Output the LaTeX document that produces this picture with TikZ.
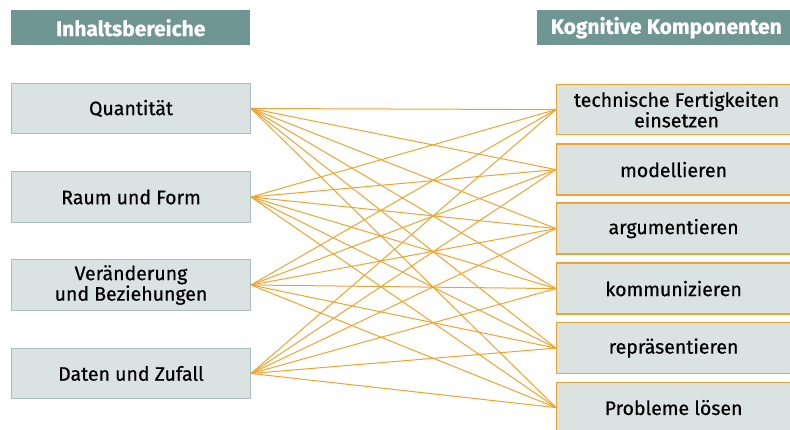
\documentclass[tikz,border=0pt]{standalone}
\usepackage{fontspec}
\setmainfont{Fira Sans}[FakeBold=0.6]
\newfontfamily\headfont{Fira Sans}[FakeBold=0.5]
\definecolor{headteal}{HTML}{6F9692}
\definecolor{boxfill}{HTML}{DAE3E1}
\definecolor{boxline}{HTML}{AABFBB}
\definecolor{linkorange}{HTML}{F2A22E}
\begin{document}
\begin{tikzpicture}[x=1pt,y=-1pt,
  header/.style={fill=headteal, draw=none, text=white, font=\headfont\fontsize{21}{23}\selectfont\bfseries, inner sep=0pt},
  leftbox/.style={fill=boxfill, draw=boxline, line width=1pt, font=\fontsize{19.5}{20.5}\selectfont, align=center, inner sep=0pt},
  rightbox/.style={fill=boxfill, draw=linkorange, line width=1.2pt, font=\fontsize{19.5}{20.5}\selectfont, align=center, inner sep=0pt},
  link/.style={draw=linkorange, line width=1pt}]
\useasboundingbox (0,0) rectangle (790,430);
% headers
\node[header, minimum width=239pt, minimum height=35pt, anchor=north west] (hl) at (11,10) {Inhaltsbereiche};
\node[header, minimum width=260pt, minimum height=35pt, anchor=north west] (hr) at (537,10) {\hspace*{-2pt}Kognitive Komponenten};
% left boxes
\node[leftbox, minimum width=239pt, minimum height=50pt, anchor=north west] (l1) at (11,83) {Quantität};
\node[leftbox, minimum width=239pt, minimum height=51pt, anchor=north west] (l2) at (11,171) {Raum und Form};
\node[leftbox, minimum width=239pt, minimum height=51pt, anchor=north west] (l3) at (11,259) {Veränderung\\und Beziehungen};
\node[leftbox, minimum width=239pt, minimum height=50pt, anchor=north west] (l4) at (11,348) {Daten und Zufall};
% right boxes
\node[rightbox, minimum width=240pt, minimum height=50pt, anchor=north west] (r1) at (556,84) {technische Fertigkeiten\\einsetzen};
\node[rightbox, minimum width=240pt, minimum height=51pt, anchor=north west] (r2) at (556,143.5) {\hspace*{-6pt}modellieren};
\node[rightbox, minimum width=240pt, minimum height=51pt, anchor=north west] (r3) at (556,202.5) {\hspace*{-6pt}argumentieren};
\node[rightbox, minimum width=240pt, minimum height=51pt, anchor=north west] (r4) at (556,262.5) {\hspace*{-6pt}kommunizieren};
\node[rightbox, minimum width=240pt, minimum height=51pt, anchor=north west] (r5) at (556,322) {\hspace*{-6pt}repräsentieren};
\node[rightbox, minimum width=240pt, minimum height=51pt, anchor=north west] (r6) at (556,381.5) {\hspace*{-6pt}Probleme lösen};
% links
\foreach \a in {l1,l2,l3,l4}{
  \foreach \b in {r1,r2,r3,r4,r5,r6}{
    \draw[link] (\a.east) -- (\b.west);
  }
}
\end{tikzpicture}
\end{document}
